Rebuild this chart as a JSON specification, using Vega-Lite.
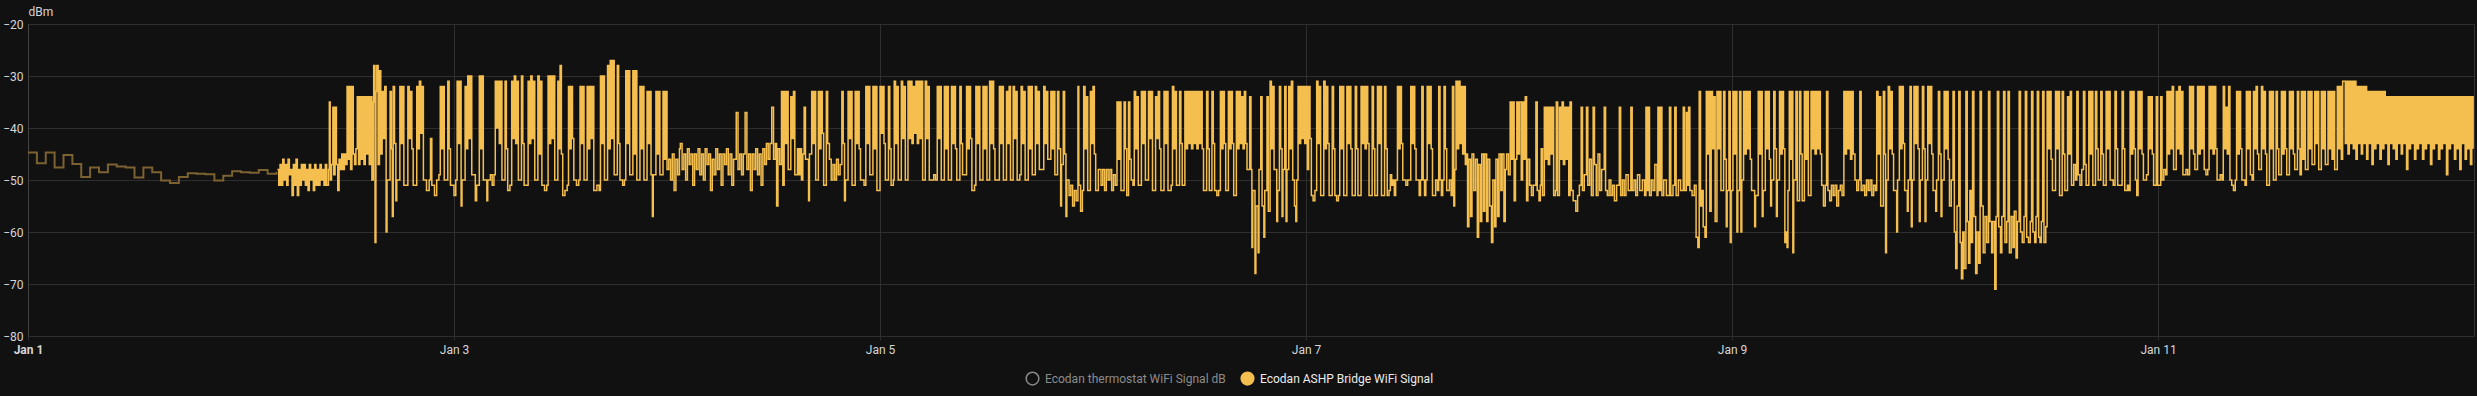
{
"$schema":"https://vega.github.io/schema/vega-lite/v6.json",
"width":2446,"height":312,
"autosize":{"type":"none"},
"padding":{"left":28,"top":24,"right":3,"bottom":60},
"background":"#111111",
"config":{"view":{"stroke":"#333333"},"font":"Roboto"},
"datasets":{
"stats":[{"h":0,"v":-44.7},{"h":1,"v":-46.8},{"h":2,"v":-44.7},{"h":3,"v":-47.6},{"h":4,"v":-45.2},{"h":5,"v":-46.9},{"h":6,"v":-49.4},{"h":7,"v":-47.6},{"h":8,"v":-48.5},{"h":9,"v":-47.0},{"h":10,"v":-47.4},{"h":11,"v":-47.6},{"h":12,"v":-49.5},{"h":13,"v":-47.6},{"h":14,"v":-48.5},{"h":15,"v":-50.1},{"h":16,"v":-50.6},{"h":17,"v":-49.4},{"h":18,"v":-48.7},{"h":19,"v":-48.8},{"h":20,"v":-48.9},{"h":21,"v":-50.1},{"h":22,"v":-49.2},{"h":23,"v":-48.3},{"h":24,"v":-48.5},{"h":25,"v":-48.6},{"h":26,"v":-48.1},{"h":27,"v":-48.8},{"h":28,"v":-48.6},{"h":28.1,"v":-48.6}],
"live":[
{"h":28.1,"v":-48},{"h":28.25,"v":-51},{"h":28.4,"v":-47},{"h":28.55,"v":-51},{"h":28.7,"v":-46},{"h":28.85,"v":-50},{"h":29.0,"v":-47},{"h":29.15,"v":-51},{"h":29.3,"v":-46},{"h":29.45,"v":-49},{"h":29.6,"v":-48},{"h":29.75,"v":-53},{"h":29.9,"v":-47},{"h":30.05,"v":-51},{"h":30.2,"v":-46},{"h":30.35,"v":-53},{"h":30.5,"v":-48},{"h":30.65,"v":-51},{"h":30.8,"v":-47},{"h":30.95,"v":-50},{"h":31.1,"v":-47},{"h":31.25,"v":-51},{"h":31.4,"v":-48},{"h":31.55,"v":-52},{"h":31.7,"v":-47},{"h":31.85,"v":-50},{"h":32.0,"v":-48},{"h":32.15,"v":-52},{"h":32.3,"v":-47},{"h":32.45,"v":-51},{"h":32.6,"v":-48},{"h":32.75,"v":-51},{"h":32.9,"v":-47},{"h":33.05,"v":-50},{"h":33.2,"v":-48},{"h":33.35,"v":-51},{"h":33.5,"v":-47},{"h":33.65,"v":-51},
{"h":33.85,"v":-48},{"h":33.95,"v":-35},{"h":34.05,"v":-50},{"h":34.2,"v":-47},{"h":34.35,"v":-36},{"h":34.45,"v":-49},{"h":34.6,"v":-36},{"h":34.75,"v":-47},{"h":34.9,"v":-52},{"h":35.05,"v":-46},{"h":35.2,"v":-48},{"h":35.35,"v":-45},{"h":35.5,"v":-48},{"h":35.65,"v":-45},{"h":35.8,"v":-47},{"h":35.95,"v":-32},{"h":36.05,"v":-46},{"h":36.2,"v":-32},{"h":36.35,"v":-48},{"h":36.5,"v":-32},{"h":36.65,"v":-45},{"h":36.8,"v":-47},{"h":36.95,"v":-44},{"h":37.1,"v":-34},{"h":37.25,"v":-47},{"h":37.4,"v":-34},{"h":37.55,"v":-46},{"h":37.7,"v":-34},{"h":37.85,"v":-47},{"h":38.0,"v":-34},{"h":38.15,"v":-45},{"h":38.3,"v":-34},{"h":38.45,"v":-47},{"h":38.6,"v":-34},{"h":38.75,"v":-50},{"h":38.9,"v":-35},{"h":38.95,"v":-28},{"h":39.1,"v":-62},{"h":39.2,"v":-33},{"h":39.3,"v":-28},{"h":39.45,"v":-47},
{"h":39.6,"v":-29},{"h":39.75,"v":-45},{"h":39.9,"v":-33},{"h":40.05,"v":-42},{"h":40.2,"v":-32},{"h":40.35,"v":-60},{"h":40.45,"v":-50},{"h":40.8,"v":-33},{"h":40.95,"v":-44},{"h":41.05,"v":-57},{"h":41.15,"v":-32},{"h":41.3,"v":-43},{"h":41.45,"v":-54},{"h":41.55,"v":-50},{"h":41.9,"v":-32},{"h":42.05,"v":-43},{"h":42.2,"v":-32},{"h":42.35,"v":-51},{"h":42.8,"v":-32},{"h":42.95,"v":-42},{"h":43.1,"v":-33},{"h":43.25,"v":-44},{"h":43.4,"v":-51},{"h":43.8,"v":-32},{"h":43.95,"v":-44},{"h":44.1,"v":-31},{"h":44.25,"v":-41},{"h":44.4,"v":-32},{"h":44.55,"v":-50},{"h":44.9,"v":-52},{"h":45.2,"v":-50},{"h":45.35,"v":-42},{"h":45.5,"v":-51},{"h":45.8,"v":-53},{"h":46.05,"v":-50},{"h":46.3,"v":-49},{"h":46.45,"v":-32},{"h":46.6,"v":-44},{"h":46.75,"v":-32},{"h":46.9,"v":-50},{"h":47.3,"v":-31},{"h":47.45,"v":-44},{"h":47.6,"v":-51},{"h":48.0,"v":-53},{"h":48.2,"v":-50},{"h":48.35,"v":-31},{"h":48.5,"v":-43},{"h":48.65,"v":-31},{"h":48.8,"v":-55},{"h":48.9,"v":-50},{"h":49.25,"v":-32},{"h":49.4,"v":-44},{"h":49.55,"v":-30},{"h":49.7,"v":-42},{"h":49.85,"v":-30},{"h":50.0,"v":-49},{"h":50.4,"v":-54},{"h":50.55,"v":-51},{"h":50.85,"v":-30},{"h":51.0,"v":-44},{"h":51.15,"v":-30},{"h":51.3,"v":-50},{"h":51.7,"v":-54},{"h":51.8,"v":-50},{"h":52.1,"v":-49},{"h":52.3,"v":-51},{"h":52.5,"v":-49},{"h":52.65,"v":-31},{"h":52.8,"v":-40},{"h":52.95,"v":-31},{"h":53.1,"v":-43},{"h":53.25,"v":-31},{"h":53.4,"v":-50},{"h":53.75,"v":-31},{"h":53.9,"v":-44},{"h":54.05,"v":-52},{"h":54.3,"v":-51},{"h":54.5,"v":-31},{"h":54.65,"v":-42},{"h":54.8,"v":-30},{"h":54.95,"v":-43},{"h":55.1,"v":-31},{"h":55.25,"v":-50},{"h":55.6,"v":-30},{"h":55.75,"v":-43},{"h":55.9,"v":-51},{"h":56.2,"v":-51},{"h":56.35,"v":-31},{"h":56.5,"v":-43},{"h":56.65,"v":-30},{"h":56.8,"v":-42},{"h":56.95,"v":-31},{"h":57.1,"v":-50},{"h":57.45,"v":-30},{"h":57.6,"v":-45},{"h":57.75,"v":-31},{"h":57.9,"v":-51},{"h":58.2,"v":-52},{"h":58.45,"v":-51},{"h":58.6,"v":-30},{"h":58.75,"v":-43},{"h":58.9,"v":-30},{"h":59.05,"v":-42},{"h":59.2,"v":-30},{"h":59.35,"v":-50},{"h":59.7,"v":-31},{"h":59.85,"v":-44},{"h":59.95,"v":-28},{"h":60.1,"v":-45},{"h":60.25,"v":-53},{"h":60.5,"v":-52},{"h":60.75,"v":-51},{"h":60.9,"v":-32},{"h":61.05,"v":-44},{"h":61.2,"v":-32},{"h":61.35,"v":-42},{"h":61.5,"v":-50},{"h":61.8,"v":-51},{"h":62.05,"v":-50},{"h":62.2,"v":-32},{"h":62.35,"v":-43},{"h":62.5,"v":-32},{"h":62.65,"v":-50},{"h":63.0,"v":-32},{"h":63.15,"v":-44},{"h":63.3,"v":-32},{"h":63.45,"v":-42},{"h":63.6,"v":-32},{"h":63.75,"v":-52},{"h":64.1,"v":-51},{"h":64.35,"v":-52},{"h":64.5,"v":-30},{"h":64.65,"v":-43},{"h":64.8,"v":-30},{"h":64.95,"v":-50},{"h":65.3,"v":-28},{"h":65.45,"v":-44},{"h":65.6,"v":-27},{"h":65.75,"v":-42},{"h":65.9,"v":-27},{"h":66.05,"v":-49},{"h":66.4,"v":-28},{"h":66.55,"v":-43},{"h":66.7,"v":-50},{"h":67.0,"v":-51},{"h":67.2,"v":-50},{"h":67.35,"v":-29},{"h":67.5,"v":-43},{"h":67.65,"v":-29},{"h":67.8,"v":-49},{"h":68.15,"v":-29},{"h":68.3,"v":-45},{"h":68.45,"v":-29},{"h":68.6,"v":-50},{"h":68.95,"v":-32},{"h":69.1,"v":-44},{"h":69.25,"v":-32},{"h":69.4,"v":-50},{"h":69.75,"v":-33},{"h":69.9,"v":-43},{"h":70.05,"v":-33},{"h":70.2,"v":-49},{"h":70.35,"v":-57},{"h":70.45,"v":-49},{"h":70.75,"v":-33},{"h":70.9,"v":-45},{"h":71.05,"v":-33},{"h":71.2,"v":-49},{"h":71.55,"v":-33},{"h":71.7,"v":-46},{"h":71.85,"v":-33},{"h":72.0,"v":-48},
{"h":72.2,"v":-46},{"h":72.4,"v":-50},{"h":72.6,"v":-45},{"h":72.8,"v":-52},{"h":73.0,"v":-46},{"h":73.2,"v":-49},{"h":73.4,"v":-44},{"h":73.5,"v":-43},{"h":73.7,"v":-48},{"h":73.9,"v":-45},{"h":74.1,"v":-50},{"h":74.3,"v":-44},{"h":74.5,"v":-47},{"h":74.7,"v":-45},{"h":74.9,"v":-51},{"h":75.1,"v":-45},{"h":75.3,"v":-48},{"h":75.5,"v":-44},{"h":75.7,"v":-49},{"h":75.9,"v":-45},{"h":76.1,"v":-50},{"h":76.3,"v":-44},{"h":76.5,"v":-47},{"h":76.7,"v":-45},{"h":76.9,"v":-52},{"h":77.1,"v":-46},{"h":77.3,"v":-49},{"h":77.5,"v":-44},{"h":77.7,"v":-48},{"h":77.9,"v":-45},{"h":78.1,"v":-51},{"h":78.3,"v":-45},{"h":78.5,"v":-47},{"h":78.7,"v":-44},{"h":78.9,"v":-49},{"h":79.1,"v":-45},{"h":79.3,"v":-51},{"h":79.5,"v":-46},{"h":79.8,"v":-37},{"h":80.0,"v":-48},{"h":80.2,"v":-45},{"h":80.4,"v":-49},{"h":80.6,"v":-45},{"h":80.8,"v":-37},{"h":81.0,"v":-48},{"h":81.2,"v":-45},{"h":81.4,"v":-52},{"h":81.6,"v":-45},{"h":81.8,"v":-48},{"h":82.0,"v":-44},{"h":82.2,"v":-49},{"h":82.4,"v":-45},{"h":82.6,"v":-51},{"h":82.8,"v":-44},{"h":83.0,"v":-47},{"h":83.2,"v":-43},{"h":83.4,"v":-46},{"h":83.6,"v":-43},{"h":83.8,"v":-36},{"h":84.0,"v":-46},{"h":84.2,"v":-43},{"h":84.35,"v":-55},{"h":84.5,"v":-44},{"h":84.7,"v":-47},
{"h":84.9,"v":-33},{"h":85.05,"v":-51},{"h":85.2,"v":-33},{"h":85.35,"v":-43},{"h":85.5,"v":-33},{"h":85.65,"v":-48},{"h":85.95,"v":-34},{"h":86.1,"v":-42},{"h":86.25,"v":-33},{"h":86.4,"v":-49},{"h":86.7,"v":-44},{"h":86.85,"v":-49},{"h":87.0,"v":-44},{"h":87.15,"v":-50},{"h":87.3,"v":-45},{"h":87.45,"v":-36},{"h":87.6,"v":-46},{"h":87.95,"v":-54},{"h":88.05,"v":-45},{"h":88.3,"v":-33},{"h":88.45,"v":-43},{"h":88.6,"v":-33},{"h":88.75,"v":-50},{"h":89.05,"v":-33},{"h":89.2,"v":-44},{"h":89.35,"v":-33},{"h":89.5,"v":-41},{"h":89.65,"v":-51},{"h":89.95,"v":-33},{"h":90.1,"v":-43},{"h":90.3,"v":-46},{"h":90.5,"v":-50},{"h":90.7,"v":-47},{"h":90.9,"v":-50},{"h":91.1,"v":-46},{"h":91.3,"v":-49},{"h":91.5,"v":-47},{"h":91.7,"v":-33},{"h":91.85,"v":-43},{"h":92.0,"v":-54},{"h":92.1,"v":-50},{"h":92.4,"v":-33},{"h":92.55,"v":-42},{"h":92.7,"v":-33},{"h":92.85,"v":-51},{"h":93.2,"v":-33},{"h":93.35,"v":-43},{"h":93.5,"v":-33},{"h":93.65,"v":-44},{"h":93.8,"v":-50},{"h":94.2,"v":-51},{"h":94.4,"v":-32},{"h":94.55,"v":-43},{"h":94.7,"v":-32},{"h":94.85,"v":-49},{"h":95.2,"v":-32},{"h":95.35,"v":-44},{"h":95.5,"v":-32},{"h":95.65,"v":-52},{"h":96.0,"v":-32},{"h":96.15,"v":-41},{"h":96.3,"v":-32},{"h":96.45,"v":-43},{"h":96.6,"v":-50},{"h":96.95,"v":-32},{"h":97.1,"v":-44},{"h":97.25,"v":-51},{"h":97.5,"v":-50},{"h":97.6,"v":-31},{"h":97.75,"v":-43},{"h":97.9,"v":-32},{"h":98.05,"v":-50},{"h":98.4,"v":-31},{"h":98.55,"v":-42},{"h":98.7,"v":-32},{"h":98.85,"v":-50},{"h":99.15,"v":-31},{"h":99.3,"v":-42},{"h":99.45,"v":-31},{"h":99.6,"v":-43},{"h":99.75,"v":-32},{"h":99.9,"v":-41},{"h":100.05,"v":-31},{"h":100.2,"v":-43},{"h":100.35,"v":-31},{"h":100.5,"v":-42},{"h":100.65,"v":-31},{"h":100.8,"v":-50},{"h":101.1,"v":-31},{"h":101.25,"v":-42},{"h":101.4,"v":-32},{"h":101.55,"v":-50},{"h":101.85,"v":-50},{"h":102.05,"v":-49},{"h":102.25,"v":-50},{"h":102.45,"v":-32},{"h":102.6,"v":-42},{"h":102.75,"v":-32},{"h":102.9,"v":-50},{"h":103.25,"v":-32},{"h":103.4,"v":-44},{"h":103.55,"v":-32},{"h":103.7,"v":-50},{"h":104.05,"v":-32},{"h":104.2,"v":-43},{"h":104.35,"v":-32},{"h":104.5,"v":-44},{"h":104.65,"v":-50},{"h":105.0,"v":-32},{"h":105.15,"v":-43},{"h":105.3,"v":-49},{"h":105.6,"v":-49},{"h":105.75,"v":-32},{"h":105.9,"v":-44},{"h":106.05,"v":-32},{"h":106.2,"v":-42},{"h":106.35,"v":-52},{"h":106.65,"v":-51},{"h":106.8,"v":-32},{"h":106.95,"v":-43},{"h":107.1,"v":-32},{"h":107.25,"v":-50},{"h":107.6,"v":-32},{"h":107.75,"v":-44},{"h":107.9,"v":-32},{"h":108.05,"v":-50},{"h":108.35,"v":-31},{"h":108.5,"v":-43},{"h":108.65,"v":-31},{"h":108.8,"v":-44},{"h":108.95,"v":-50},{"h":109.3,"v":-50},{"h":109.45,"v":-32},{"h":109.6,"v":-43},{"h":109.75,"v":-32},{"h":109.9,"v":-50},{"h":110.25,"v":-33},{"h":110.4,"v":-43},{"h":110.55,"v":-32},{"h":110.7,"v":-50},{"h":111.0,"v":-32},{"h":111.15,"v":-42},{"h":111.3,"v":-33},{"h":111.45,"v":-50},{"h":111.75,"v":-49},{"h":111.9,"v":-32},{"h":112.05,"v":-43},{"h":112.2,"v":-33},{"h":112.35,"v":-50},{"h":112.7,"v":-32},{"h":112.85,"v":-44},{"h":113.0,"v":-32},{"h":113.15,"v":-49},{"h":113.5,"v":-32},{"h":113.65,"v":-43},{"h":113.8,"v":-33},{"h":113.95,"v":-48},{"h":114.3,"v":-48},{"h":114.45,"v":-32},{"h":114.6,"v":-43},{"h":114.75,"v":-33},{"h":114.9,"v":-46},{"h":115.25,"v":-33},{"h":115.4,"v":-44},{"h":115.55,"v":-33},{"h":115.7,"v":-49},{"h":116.0,"v":-33},{"h":116.15,"v":-44},{"h":116.35,"v":-55},{"h":116.45,"v":-47},{"h":116.65,"v":-33},{"h":116.8,"v":-45},{"h":116.95,"v":-57},{"h":117.05,"v":-50},{"h":117.3,"v":-53},{"h":117.5,"v":-51},{"h":117.7,"v":-55},{"h":117.9,"v":-52},{"h":118.1,"v":-54},{"h":118.3,"v":-32},{"h":118.4,"v":-51},{"h":118.6,"v":-56},{"h":118.8,"v":-52},{"h":118.95,"v":-32},{"h":119.1,"v":-44},{"h":119.25,"v":-34},{"h":119.4,"v":-52},{"h":119.7,"v":-33},{"h":119.85,"v":-43},{"h":120.0,"v":-32},{"h":120.15,"v":-45},{"h":120.3,"v":-52},{"h":120.6,"v":-48},{"h":120.9,"v":-51},{"h":121.1,"v":-48},{"h":121.3,"v":-52},{"h":121.5,"v":-48},{"h":121.7,"v":-50},{"h":121.9,"v":-48},{"h":122.1,"v":-52},{"h":122.3,"v":-49},{"h":122.5,"v":-51},{"h":122.7,"v":-35},{"h":122.85,"v":-46},{"h":123.0,"v":-35},{"h":123.15,"v":-52},{"h":123.5,"v":-35},{"h":123.65,"v":-44},{"h":123.8,"v":-53},{"h":124.0,"v":-35},{"h":124.15,"v":-46},{"h":124.3,"v":-50},{"h":124.5,"v":-51},{"h":124.65,"v":-33},{"h":124.8,"v":-44},{"h":124.95,"v":-34},{"h":125.1,"v":-51},{"h":125.45,"v":-33},{"h":125.6,"v":-43},{"h":125.75,"v":-33},{"h":125.9,"v":-50},{"h":126.25,"v":-33},
{"h":126.4,"v":-42},{"h":126.55,"v":-33},{"h":126.7,"v":-52},{"h":127.05,"v":-34},{"h":127.2,"v":-42},{"h":127.35,"v":-33},{"h":127.5,"v":-44},{"h":127.65,"v":-52},{"h":128.0,"v":-33},{"h":128.15,"v":-43},{"h":128.3,"v":-33},{"h":128.45,"v":-52},{"h":128.8,"v":-51},{"h":128.95,"v":-32},{"h":129.1,"v":-44},{"h":129.25,"v":-33},{"h":129.4,"v":-51},{"h":129.75,"v":-33},{"h":129.9,"v":-43},{"h":130.05,"v":-51},{"h":130.35,"v":-33},{"h":130.5,"v":-44},{"h":130.65,"v":-33},{"h":130.8,"v":-43},{"h":130.95,"v":-33},{"h":131.1,"v":-44},{"h":131.25,"v":-33},{"h":131.4,"v":-43},{"h":131.55,"v":-33},{"h":131.7,"v":-44},{"h":131.85,"v":-33},{"h":132.0,"v":-43},{"h":132.15,"v":-33},{"h":132.3,"v":-44},{"h":132.45,"v":-52},{"h":132.8,"v":-33},{"h":132.95,"v":-44},{"h":133.1,"v":-52},{"h":133.4,"v":-33},{"h":133.55,"v":-43},{"h":133.7,"v":-52},{"h":133.95,"v":-53},{"h":134.15,"v":-52},{"h":134.35,"v":-33},{"h":134.5,"v":-44},{"h":134.65,"v":-33},{"h":134.8,"v":-43},{"h":134.95,"v":-52},{"h":135.25,"v":-33},{"h":135.4,"v":-44},{"h":135.55,"v":-33},{"h":135.7,"v":-43},{"h":135.85,"v":-53},{"h":136.15,"v":-33},{"h":136.3,"v":-44},{"h":136.45,"v":-33},{"h":136.6,"v":-43},{"h":136.75,"v":-34},{"h":136.9,"v":-44},{"h":137.05,"v":-33},{"h":137.2,"v":-43},{"h":137.35,"v":-48},{"h":137.65,"v":-34},{"h":137.8,"v":-48},{"h":137.9,"v":-63},{"h":138.0,"v":-52},{"h":138.25,"v":-68},{"h":138.35,"v":-55},{"h":138.6,"v":-64},{"h":138.7,"v":-48},{"h":138.9,"v":-34},{"h":139.05,"v":-55},{"h":139.25,"v":-61},{"h":139.35,"v":-52},{"h":139.6,"v":-34},{"h":139.75,"v":-56},{"h":139.95,"v":-31},{"h":140.1,"v":-44},{"h":140.25,"v":-32},{"h":140.4,"v":-48},{"h":140.7,"v":-58},{"h":140.8,"v":-52},{"h":141.0,"v":-32},{"h":141.15,"v":-44},{"h":141.3,"v":-57},{"h":141.4,"v":-48},{"h":141.6,"v":-32},{"h":141.75,"v":-58},{"h":141.85,"v":-48},{"h":142.05,"v":-32},{"h":142.2,"v":-44},{"h":142.35,"v":-31},{"h":142.5,"v":-50},{"h":142.7,"v":-55},{"h":142.85,"v":-58},{"h":142.95,"v":-50},{"h":143.1,"v":-32},{"h":143.25,"v":-43},{"h":143.4,"v":-32},{"h":143.55,"v":-42},{"h":143.7,"v":-32},{"h":143.85,"v":-43},{"h":144.0,"v":-32},{"h":144.15,"v":-48},{"h":144.3,"v":-32},{"h":144.45,"v":-42},{"h":144.6,"v":-53},{"h":144.8,"v":-54},{"h":145.0,"v":-52},{"h":145.2,"v":-31},{"h":145.35,"v":-43},{"h":145.5,"v":-32},{"h":145.65,"v":-53},{"h":146.0,"v":-31},{"h":146.15,"v":-44},{"h":146.3,"v":-32},{"h":146.45,"v":-43},{"h":146.6,"v":-53},{"h":146.95,"v":-32},{"h":147.1,"v":-44},{"h":147.25,"v":-53},{"h":147.45,"v":-54},{"h":147.65,"v":-53},{"h":147.8,"v":-32},{"h":147.95,"v":-44},{"h":148.1,"v":-32},{"h":148.25,"v":-53},{"h":148.6,"v":-32},{"h":148.75,"v":-43},{"h":148.9,"v":-32},{"h":149.05,"v":-44},{"h":149.2,"v":-53},{"h":149.55,"v":-32},{"h":149.7,"v":-44},{"h":149.85,"v":-53},{"h":150.2,"v":-32},{"h":150.35,"v":-43},{"h":150.5,"v":-32},{"h":150.65,"v":-44},{"h":150.8,"v":-32},{"h":150.95,"v":-43},{"h":151.1,"v":-53},{"h":151.45,"v":-32},{"h":151.6,"v":-44},{"h":151.75,"v":-53},{"h":152.05,"v":-32},{"h":152.2,"v":-43},{"h":152.35,"v":-32},{"h":152.5,"v":-53},{"h":152.85,"v":-32},{"h":153.0,"v":-44},{"h":153.15,"v":-53},{"h":153.35,"v":-52},{"h":153.5,"v":-49},{"h":153.65,"v":-51},{"h":153.8,"v":-50},{"h":153.95,"v":-53},{"h":154.1,"v":-50},{"h":154.3,"v":-32},{"h":154.45,"v":-44},{"h":154.6,"v":-32},{"h":154.75,"v":-43},{"h":154.9,"v":-50},{"h":155.25,"v":-51},{"h":155.45,"v":-50},{"h":155.65,"v":-50},{"h":155.8,"v":-32},{"h":155.95,"v":-43},{"h":156.1,"v":-32},{"h":156.25,"v":-44},{"h":156.4,"v":-50},{"h":156.75,"v":-53},{"h":156.9,"v":-50},{"h":157.05,"v":-32},{"h":157.2,"v":-50},{"h":157.35,"v":-53},{"h":157.5,"v":-50},{"h":157.65,"v":-32},{"h":157.8,"v":-43},{"h":157.95,"v":-32},{"h":158.1,"v":-44},{"h":158.25,"v":-53},{"h":158.6,"v":-50},{"h":158.8,"v":-52},{"h":158.95,"v":-32},{"h":159.1,"v":-50},{"h":159.25,"v":-53},{"h":159.4,"v":-50},{"h":159.55,"v":-32},{"h":159.7,"v":-44},{"h":159.85,"v":-52},{"h":160.15,"v":-50},{"h":160.35,"v":-53},{"h":160.5,"v":-32},{"h":160.65,"v":-55},{"h":160.75,"v":-48},{"h":160.9,"v":-31},{"h":161.05,"v":-44},{"h":161.2,"v":-31},{"h":161.35,"v":-43},{"h":161.5,"v":-32},{"h":161.65,"v":-45},{"h":161.8,"v":-32},{"h":161.95,"v":-47},{"h":162.05,"v":-45},{"h":162.2,"v":-59},{"h":162.35,"v":-46},{"h":162.55,"v":-57},{"h":162.7,"v":-45},{"h":162.9,"v":-52},{"h":163.1,"v":-46},{"h":163.3,"v":-61},{"h":163.45,"v":-47},{"h":163.65,"v":-58},{"h":163.8,"v":-45},{"h":164.0,"v":-56},{"h":164.15,"v":-45},{"h":164.35,"v":-58},{"h":164.5,"v":-46},{"h":164.7,"v":-55},{"h":164.9,"v":-62},{"h":165.05,"v":-50},{"h":165.25,"v":-59},{"h":165.4,"v":-46},{"h":165.6,"v":-57},{"h":165.75,"v":-45},{"h":165.95,"v":-52},{"h":166.1,"v":-45},{"h":166.3,"v":-58},{"h":166.45,"v":-48},{"h":166.6,"v":-45},{"h":166.8,"v":-49},{"h":167.0,"v":-35},{"h":167.15,"v":-46},{"h":167.3,"v":-35},{"h":167.45,"v":-54},{"h":167.6,"v":-46},{"h":167.75,"v":-35},{"h":167.9,"v":-45},{"h":168.05,"v":-35},{"h":168.25,"v":-50},
{"h":168.4,"v":-35},{"h":168.55,"v":-46},{"h":168.7,"v":-34},{"h":168.85,"v":-54},{"h":169.0,"v":-46},{"h":169.2,"v":-51},{"h":169.4,"v":-53},{"h":169.6,"v":-51},{"h":169.9,"v":-35},{"h":170.05,"v":-52},{"h":170.25,"v":-54},{"h":170.4,"v":-51},{"h":170.5,"v":-44},{"h":170.65,"v":-53},{"h":170.85,"v":-36},{"h":171.0,"v":-46},{"h":171.15,"v":-36},{"h":171.3,"v":-47},{"h":171.45,"v":-36},{"h":171.6,"v":-45},{"h":171.75,"v":-36},{"h":171.9,"v":-53},{"h":172.1,"v":-52},{"h":172.2,"v":-35},{"h":172.35,"v":-53},{"h":172.55,"v":-36},{"h":172.7,"v":-46},{"h":172.85,"v":-35},{"h":173.0,"v":-47},{"h":173.15,"v":-36},{"h":173.3,"v":-46},{"h":173.45,"v":-36},{"h":173.6,"v":-53},{"h":173.75,"v":-35},{"h":173.9,"v":-52},{"h":174.1,"v":-54},{"h":174.4,"v":-56},{"h":174.6,"v":-53},{"h":174.8,"v":-51},{"h":175.0,"v":-36},{"h":175.15,"v":-52},{"h":175.35,"v":-49},{"h":175.6,"v":-36},{"h":175.75,"v":-51},{"h":175.95,"v":-46},{"h":176.15,"v":-53},{"h":176.35,"v":-36},{"h":176.5,"v":-47},{"h":176.7,"v":-53},{"h":176.9,"v":-45},{"h":177.1,"v":-52},{"h":177.3,"v":-48},{"h":177.6,"v":-36},{"h":177.75,"v":-52},{"h":177.95,"v":-53},{"h":178.15,"v":-50},{"h":178.35,"v":-53},{"h":178.55,"v":-51},{"h":178.75,"v":-54},{"h":179.0,"v":-51},{"h":179.3,"v":-36},{"h":179.45,"v":-53},{"h":179.65,"v":-50},{"h":179.85,"v":-53},{"h":180.05,"v":-49},{"h":180.3,"v":-52},{"h":180.6,"v":-36},{"h":180.75,"v":-52},{"h":180.95,"v":-50},{"h":181.15,"v":-53},{"h":181.35,"v":-49},{"h":181.6,"v":-52},{"h":181.9,"v":-50},{"h":182.15,"v":-53},{"h":182.3,"v":-36},{"h":182.45,"v":-52},{"h":182.55,"v":-36},{"h":182.7,"v":-53},{"h":182.9,"v":-50},{"h":183.1,"v":-52},{"h":183.3,"v":-47},{"h":183.55,"v":-53},{"h":183.65,"v":-36},{"h":183.8,"v":-52},{"h":183.95,"v":-36},{"h":184.1,"v":-53},{"h":184.3,"v":-50},{"h":184.6,"v":-53},{"h":184.95,"v":-36},{"h":185.1,"v":-53},{"h":185.35,"v":-51},{"h":185.55,"v":-36},{"h":185.7,"v":-53},{"h":185.95,"v":-50},{"h":186.2,"v":-52},{"h":186.5,"v":-36},{"h":186.65,"v":-52},{"h":186.85,"v":-37},{"h":187.0,"v":-51},{"h":187.1,"v":-36},{"h":187.25,"v":-52},{"h":187.5,"v":-53},{"h":187.75,"v":-51},{"h":187.95,"v":-61},{"h":188.15,"v":-63},{"h":188.3,"v":-33},{"h":188.45,"v":-55},{"h":188.6,"v":-52},{"h":188.75,"v":-59},{"h":188.95,"v":-61},{"h":189.1,"v":-33},{"h":189.25,"v":-45},{"h":189.4,"v":-33},{"h":189.5,"v":-56},{"h":189.65,"v":-33},{"h":189.8,"v":-44},{"h":189.95,"v":-34},{"h":190.1,"v":-58},
{"h":190.3,"v":-33},{"h":190.45,"v":-44},{"h":190.6,"v":-33},{"h":190.75,"v":-52},{"h":191.05,"v":-33},{"h":191.2,"v":-46},{"h":191.35,"v":-59},{"h":191.45,"v":-52},{"h":191.65,"v":-33},{"h":191.8,"v":-62},{"h":191.9,"v":-52},{"h":192.1,"v":-33},{"h":192.25,"v":-45},{"h":192.4,"v":-33},{"h":192.55,"v":-60},{"h":192.65,"v":-52},{"h":192.85,"v":-33},{"h":193.0,"v":-60},{"h":193.1,"v":-50},{"h":193.3,"v":-33},{"h":193.45,"v":-45},{"h":193.6,"v":-33},{"h":193.75,"v":-44},{"h":193.9,"v":-33},{"h":194.05,"v":-46},{"h":194.2,"v":-52},{"h":194.55,"v":-59},{"h":194.65,"v":-53},{"h":194.95,"v":-33},{"h":195.1,"v":-45},{"h":195.25,"v":-33},{"h":195.4,"v":-57},{"h":195.5,"v":-52},{"h":195.75,"v":-33},{"h":195.9,"v":-44},{"h":196.05,"v":-33},{"h":196.2,"v":-46},{"h":196.35,"v":-55},{"h":196.45,"v":-50},{"h":196.7,"v":-33},{"h":196.85,"v":-44},{"h":197.0,"v":-57},{"h":197.1,"v":-50},{"h":197.35,"v":-33},{"h":197.5,"v":-45},{"h":197.65,"v":-33},{"h":197.8,"v":-44},{"h":197.95,"v":-62},{"h":198.05,"v":-60},{"h":198.2,"v":-63},{"h":198.3,"v":-52},{"h":198.45,"v":-33},{"h":198.6,"v":-46},{"h":198.75,"v":-33},{"h":198.85,"v":-64},{"h":198.95,"v":-50},{"h":199.2,"v":-33},{"h":199.35,"v":-54},{"h":199.6,"v":-33},{"h":199.75,"v":-45},{"h":199.9,"v":-54},{"h":200.15,"v":-33},{"h":200.3,"v":-46},{"h":200.45,"v":-33},{"h":200.6,"v":-53},{"h":200.9,"v":-33},{"h":201.05,"v":-44},{"h":201.2,"v":-33},{"h":201.35,"v":-45},{"h":201.5,"v":-33},{"h":201.65,"v":-44},{"h":201.8,"v":-33},{"h":201.95,"v":-45},{"h":202.1,"v":-51},{"h":202.3,"v":-55},{"h":202.5,"v":-51},{"h":202.65,"v":-33},{"h":202.8,"v":-52},{"h":203.0,"v":-54},{"h":203.2,"v":-51},{"h":203.4,"v":-53},{"h":203.6,"v":-51},{"h":203.8,"v":-55},{"h":204.0,"v":-52},{"h":204.2,"v":-51},{"h":204.4,"v":-53},{"h":204.6,"v":-33},{"h":204.75,"v":-45},{"h":204.9,"v":-33},{"h":205.05,"v":-44},{"h":205.2,"v":-33},{"h":205.35,"v":-46},{"h":205.5,"v":-33},{"h":205.65,"v":-45},{"h":205.85,"v":-50},{"h":206.05,"v":-52},{"h":206.25,"v":-50},{"h":206.4,"v":-33},{"h":206.55,"v":-52},{"h":206.75,"v":-51},{"h":206.95,"v":-53},{"h":207.15,"v":-50},{"h":207.35,"v":-52},{"h":207.55,"v":-50},{"h":207.75,"v":-53},{"h":207.95,"v":-51},{"h":208.15,"v":-52},{"h":208.3,"v":-33},{"h":208.45,"v":-45},{"h":208.6,"v":-34},{"h":208.75,"v":-55},{"h":209.05,"v":-33},{"h":209.2,"v":-45},{"h":209.3,"v":-64},{"h":209.4,"v":-50},{"h":209.6,"v":-32},{"h":209.75,"v":-44},{"h":209.9,"v":-33},{"h":210.05,"v":-45},{"h":210.2,"v":-52},{"h":210.55,"v":-60},{"h":210.65,"v":-50},{"h":210.85,"v":-32},{"h":211.0,"v":-44},{"h":211.15,"v":-32},{"h":211.3,"v":-43},{"h":211.45,"v":-52},{"h":211.75,"v":-56},{"h":211.85,"v":-50},{"h":212.05,"v":-32},{"h":212.2,"v":-59},{"h":212.3,"v":-50},{"h":212.5,"v":-32},{"h":212.65,"v":-43},{"h":212.8,"v":-32},{"h":212.95,"v":-44},{"h":213.1,"v":-58},{"h":213.2,"v":-50},{"h":213.45,"v":-32},{"h":213.6,"v":-44},{"h":213.75,"v":-58},{"h":213.85,"v":-50},{"h":214.05,"v":-32},{"h":214.2,"v":-43},{"h":214.35,"v":-32},{"h":214.5,"v":-45},{"h":214.65,"v":-52},{"h":214.95,"v":-56},{"h":215.05,"v":-50},{"h":215.25,"v":-33},{"h":215.4,"v":-45},{"h":215.55,"v":-57},{"h":215.65,"v":-50},{"h":215.9,"v":-33},{"h":216.05,"v":-44},{"h":216.2,"v":-33},{"h":216.35,"v":-46},{"h":216.5,"v":-55},{"h":216.7,"v":-50},{"h":216.9,"v":-33},{"h":217.05,"v":-60},{"h":217.2,"v":-67},{"h":217.35,"v":-55},{"h":217.55,"v":-33},{"h":217.7,"v":-62},{"h":217.85,"v":-69},{"h":218.0,"v":-60},{"h":218.15,"v":-67},{"h":218.35,"v":-33},{"h":218.5,"v":-58},{"h":218.65,"v":-66},{"h":218.8,"v":-52},{"h":218.95,"v":-62},{"h":219.1,"v":-33},{"h":219.25,"v":-57},{"h":219.45,"v":-68},{"h":219.6,"v":-60},{"h":219.8,"v":-66},{"h":219.95,"v":-33},{"h":220.1,"v":-55},{"h":220.3,"v":-64},{"h":220.5,"v":-57},{"h":220.7,"v":-62},{"h":220.9,"v":-33},{"h":221.05,"v":-58},{"h":221.25,"v":-64},{"h":221.4,"v":-58},{"h":221.6,"v":-71},{"h":221.75,"v":-57},{"h":221.9,"v":-33},{"h":222.05,"v":-59},{"h":222.25,"v":-64},{"h":222.4,"v":-57},{"h":222.6,"v":-33},{"h":222.75,"v":-62},{"h":222.95,"v":-58},{"h":223.1,"v":-33},{"h":223.25,"v":-64},{"h":223.45,"v":-57},{"h":223.65,"v":-63},{"h":223.8,"v":-56},{"h":224.0,"v":-65},{"h":224.15,"v":-58},{"h":224.35,"v":-33},{"h":224.5,"v":-60},{"h":224.7,"v":-62},{"h":224.9,"v":-57},{"h":225.05,"v":-33},{"h":225.2,"v":-61},{"h":225.4,"v":-62},{"h":225.6,"v":-58},{"h":225.75,"v":-33},{"h":225.9,"v":-60},{"h":226.1,"v":-62},{"h":226.25,"v":-57},{"h":226.4,"v":-33},{"h":226.55,"v":-61},{"h":226.7,"v":-62},{"h":226.85,"v":-58},{"h":227.0,"v":-33},{"h":227.15,"v":-62},{"h":227.35,"v":-59},{"h":227.5,"v":-33},{"h":227.65,"v":-44},{"h":227.8,"v":-33},{"h":227.95,"v":-46},{"h":228.1,"v":-52},{"h":228.45,"v":-33},{"h":228.6,"v":-44},{"h":228.75,"v":-33},{"h":228.9,"v":-53},{"h":229.2,"v":-33},{"h":229.35,"v":-45},{"h":229.5,"v":-52},{"h":229.8,"v":-34},{"h":229.95,"v":-45},{"h":230.1,"v":-33},{"h":230.25,"v":-51},{"h":230.5,"v":-47},{"h":230.7,"v":-50},{"h":230.85,"v":-33},{"h":231.0,"v":-49},{"h":231.2,"v":-51},{"h":231.4,"v":-48},{"h":231.6,"v":-33},{"h":231.75,"v":-47},{"h":231.9,"v":-51},{"h":232.2,"v":-33},{"h":232.35,"v":-45},{"h":232.5,"v":-33},{"h":232.65,"v":-51},{"h":232.95,"v":-33},{"h":233.1,"v":-44},{"h":233.25,"v":-50},
{"h":233.55,"v":-33},{"h":233.7,"v":-45},{"h":233.85,"v":-51},{"h":234.15,"v":-33},{"h":234.3,"v":-44},{"h":234.45,"v":-33},{"h":234.6,"v":-50},{"h":234.95,"v":-51},{"h":235.15,"v":-33},{"h":235.3,"v":-44},{"h":235.45,"v":-51},{"h":235.8,"v":-51},{"h":235.95,"v":-33},{"h":236.1,"v":-44},{"h":236.25,"v":-52},{"h":236.55,"v":-51},{"h":236.7,"v":-52},{"h":236.85,"v":-33},{"h":237.0,"v":-45},{"h":237.15,"v":-33},{"h":237.3,"v":-44},{"h":237.45,"v":-50},{"h":237.6,"v":-53},{"h":237.75,"v":-33},{"h":237.9,"v":-44},{"h":238.05,"v":-33},{"h":238.2,"v":-45},{"h":238.35,"v":-50},{"h":238.7,"v":-49},{"h":238.9,"v":-34},{"h":239.05,"v":-44},{"h":239.2,"v":-34},{"h":239.35,"v":-45},{"h":239.5,"v":-51},{"h":239.8,"v":-34},{"h":239.95,"v":-51},{"h":240.1,"v":-51},{"h":240.3,"v":-34},{"h":240.45,"v":-50},{"h":240.65,"v":-48},{"h":240.85,"v":-49},{"h":241.0,"v":-33},{"h":241.15,"v":-45},{"h":241.3,"v":-33},{"h":241.45,"v":-44},{"h":241.6,"v":-32},{"h":241.75,"v":-48},{"h":242.05,"v":-33},{"h":242.2,"v":-44},{"h":242.35,"v":-32},{"h":242.5,"v":-45},{"h":242.65,"v":-33},{"h":242.8,"v":-49},{"h":243.15,"v":-48},{"h":243.35,"v":-49},{"h":243.55,"v":-32},{"h":243.7,"v":-44},{"h":243.85,"v":-32},{"h":244.0,"v":-45},{"h":244.15,"v":-48},{"h":244.45,"v":-32},{"h":244.6,"v":-45},{"h":244.75,"v":-32},{"h":244.9,"v":-44},{"h":245.05,"v":-32},{"h":245.2,"v":-48},{"h":245.4,"v":-49},{"h":245.6,"v":-48},{"h":245.75,"v":-32},{"h":245.9,"v":-44},{"h":246.05,"v":-32},{"h":246.2,"v":-45},{"h":246.35,"v":-32},{"h":246.5,"v":-44},{"h":246.65,"v":-50},{"h":247.0,"v":-49},{"h":247.2,"v":-50},{"h":247.35,"v":-32},{"h":247.5,"v":-44},{"h":247.65,"v":-36},{"h":247.8,"v":-45},{"h":247.95,"v":-32},{"h":248.1,"v":-50},{"h":248.3,"v":-51},{"h":248.5,"v":-52},{"h":248.7,"v":-50},{"h":248.85,"v":-33},{"h":249.0,"v":-45},{"h":249.15,"v":-33},{"h":249.3,"v":-44},{"h":249.45,"v":-50},{"h":249.8,"v":-51},{"h":249.95,"v":-33},{"h":250.1,"v":-44},{"h":250.25,"v":-33},{"h":250.4,"v":-49},{"h":250.6,"v":-50},{"h":250.75,"v":-33},{"h":250.9,"v":-44},{"h":251.05,"v":-32},{"h":251.2,"v":-45},{"h":251.35,"v":-48},{"h":251.65,"v":-32},{"h":251.8,"v":-44},{"h":251.95,"v":-33},{"h":252.1,"v":-45},{"h":252.25,"v":-51},{"h":252.55,"v":-33},{"h":252.7,"v":-44},{"h":252.85,"v":-33},{"h":253.0,"v":-50},{"h":253.3,"v":-33},{"h":253.45,"v":-44},{"h":253.6,"v":-49},{"h":253.9,"v":-33},{"h":254.05,"v":-45},{"h":254.2,"v":-33},{"h":254.35,"v":-44},{"h":254.5,"v":-49},{"h":254.8,"v":-33},{"h":254.95,"v":-44},{"h":255.1,"v":-33},{"h":255.25,"v":-45},{"h":255.4,"v":-48},{"h":255.7,"v":-33},{"h":255.85,"v":-44},{"h":256.0,"v":-49},
{"h":256.15,"v":-33},{"h":256.3,"v":-46},{"h":256.45,"v":-33},{"h":256.6,"v":-48},{"h":256.9,"v":-33},{"h":257.05,"v":-44},{"h":257.2,"v":-33},{"h":257.35,"v":-47},{"h":257.65,"v":-33},{"h":257.8,"v":-43},{"h":257.95,"v":-33},{"h":258.1,"v":-48},{"h":258.4,"v":-33},{"h":258.55,"v":-44},{"h":258.7,"v":-33},{"h":258.85,"v":-47},{"h":259.15,"v":-33},{"h":259.3,"v":-44},{"h":259.45,"v":-33},{"h":259.6,"v":-46},{"h":259.75,"v":-33},{"h":259.9,"v":-48},{"h":260.2,"v":-32},{"h":260.35,"v":-44},{"h":260.5,"v":-32},{"h":260.65,"v":-46},{"h":260.8,"v":-31},{"h":260.95,"v":-31},{"h":261.1,"v":-43},{"h":261.25,"v":-31},{"h":261.4,"v":-45},{"h":261.55,"v":-31},{"h":261.7,"v":-43},{"h":261.85,"v":-31},{"h":262.0,"v":-44},{"h":262.15,"v":-31},{"h":262.3,"v":-46},{"h":262.45,"v":-32},{"h":262.6,"v":-43},{"h":262.75,"v":-32},{"h":262.9,"v":-45},{"h":263.05,"v":-32},{"h":263.2,"v":-43},{"h":263.35,"v":-32},{"h":263.5,"v":-46},{"h":263.65,"v":-33},{"h":263.8,"v":-43},{"h":263.95,"v":-33},{"h":264.1,"v":-47},{"h":264.25,"v":-33},{"h":264.4,"v":-44},{"h":264.55,"v":-33},{"h":264.7,"v":-43},{"h":264.85,"v":-33},{"h":265.0,"v":-46},{"h":265.15,"v":-33},{"h":265.3,"v":-44},{"h":265.45,"v":-33},{"h":265.6,"v":-43},{"h":265.75,"v":-34},{"h":265.9,"v":-47},{"h":266.05,"v":-34},{"h":266.2,"v":-43},{"h":266.35,"v":-34},{"h":266.5,"v":-44},{"h":266.65,"v":-34},{"h":266.8,"v":-46},{"h":266.95,"v":-34},{"h":267.1,"v":-43},{"h":267.25,"v":-34},{"h":267.4,"v":-45},{"h":267.55,"v":-34},{"h":267.7,"v":-43},{"h":267.85,"v":-34},{"h":268.0,"v":-48},{"h":268.15,"v":-34},{"h":268.3,"v":-44},{"h":268.45,"v":-34},{"h":268.6,"v":-43},{"h":268.75,"v":-34},{"h":268.9,"v":-46},{"h":269.05,"v":-34},{"h":269.2,"v":-44},{"h":269.35,"v":-34},{"h":269.5,"v":-43},{"h":269.65,"v":-34},{"h":269.8,"v":-46},{"h":269.95,"v":-34},{"h":270.1,"v":-44},{"h":270.25,"v":-34},{"h":270.4,"v":-43},{"h":270.55,"v":-34},{"h":270.7,"v":-47},{"h":270.85,"v":-34},{"h":271.0,"v":-44},{"h":271.15,"v":-34},{"h":271.3,"v":-43},{"h":271.45,"v":-34},{"h":271.6,"v":-46},{"h":271.75,"v":-34},{"h":271.9,"v":-44},{"h":272.05,"v":-34},{"h":272.2,"v":-43},{"h":272.35,"v":-34},{"h":272.5,"v":-49},{"h":272.65,"v":-34},{"h":272.8,"v":-44},{"h":272.95,"v":-34},{"h":273.1,"v":-43},{"h":273.25,"v":-34},{"h":273.4,"v":-46},{"h":273.55,"v":-34},{"h":273.7,"v":-44},{"h":273.85,"v":-34},{"h":274.0,"v":-48},{"h":274.15,"v":-34},{"h":274.3,"v":-43},{"h":274.45,"v":-34},{"h":274.6,"v":-46},{"h":274.75,"v":-34},{"h":274.9,"v":-44},{"h":275.05,"v":-34},{"h":275.2,"v":-47},{"h":275.35,"v":-34},{"h":275.5,"v":-44}
]},
"encoding":{
"x":{"field":"h","type":"quantitative","scale":{"domain":[0,275.6],"nice":false,"zero":false},
"axis":{"values":[0,48,96,144,192,240],"labelExpr":"'Jan ' + (datum.value/24+1)","title":null,"domain":false,"grid":true,"gridColor":"#2e2e2e","gridWidth":1,"ticks":true,"tickSize":4,"tickColor":"#2e2e2e","labelPadding":4,"labelColor":"#d6d6d6","labelFontSize":12,"labelFont":"Roboto","labelFlush":false,"labelFontWeight":{"condition":{"test":"datum.value == 0","value":"bold"},"value":"normal"}}},
"y":{"field":"v","type":"quantitative","scale":{"domain":[-80,-20],"nice":false,"zero":false},
"axis":{"values":[-80,-70,-60,-50,-40,-30,-20],"title":"dBm","titleAngle":0,"titleX":0,"titleY":-13,"titleAlign":"left","titleBaseline":"middle","titleColor":"#d6d6d6","titleFontWeight":"normal","titleFontSize":12,"titleFont":"Roboto","domain":true,"domainColor":"#444444","grid":true,"gridColor":"#2e2e2e","ticks":false,"labelPadding":5,"labelColor":"#d6d6d6","labelFontSize":12,"labelFont":"Roboto"}}
},
"layer":[
{"data":{"name":"stats"},"mark":{"type":"line","interpolate":"step-after","strokeWidth":2,"color":"#7c6230"}},
{"data":{"name":"live"},"mark":{"type":"line","interpolate":"step-after","strokeWidth":1.5},
"encoding":{"color":{"datum":"Ecodan ASHP Bridge WiFi Signal","type":"nominal","scale":{"domain":["Ecodan thermostat WiFi Signal dB","Ecodan ASHP Bridge WiFi Signal"],"range":["#8a8a8a","#f4bf4f"]},
"legend":{"orient":"none","legendX":997,"legendY":347,"direction":"horizontal","title":null,"symbolType":"circle","symbolSize":160,"symbolStrokeWidth":1.5,"symbolOpacity":1,"labelFontSize":12,"labelFont":"Roboto","labelOffset":5,"labelLimit":400,"columnPadding":12,
"symbolFillColor":{"expr":"datum.value == 'Ecodan ASHP Bridge WiFi Signal' ? '#f4bf4f' : 'transparent'"},
"symbolStrokeColor":{"expr":"datum.value == 'Ecodan ASHP Bridge WiFi Signal' ? '#f4bf4f' : '#777777'"},
"labelColor":{"expr":"datum.value == 'Ecodan ASHP Bridge WiFi Signal' ? '#ececec' : '#8c8c8c'"}}}}}
]
}
